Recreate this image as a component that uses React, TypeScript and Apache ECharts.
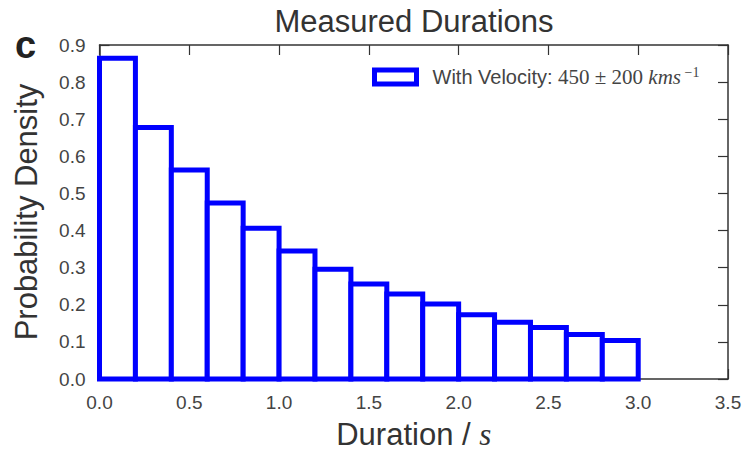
import React, { useEffect, useRef } from "react";
import * as echarts from "echarts";

const binEdges = [0.0, 0.2, 0.4, 0.6, 0.8, 1.0, 1.2, 1.4, 1.6, 1.8, 2.0, 2.2, 2.4, 2.6, 2.8, 3.0];
const densities = [0.864, 0.678, 0.563, 0.474, 0.406, 0.345, 0.296, 0.256, 0.229, 0.202, 0.173, 0.153, 0.139, 0.12, 0.104];
const xTicks = [0.0, 0.5, 1.0, 1.5, 2.0, 2.5, 3.0, 3.5];
const yTicks = [0.0, 0.1, 0.2, 0.3, 0.4, 0.5, 0.6, 0.7, 0.8, 0.9];
const seriesName = "With Velocity";

const SANS = "'Liberation Sans', Arial, sans-serif";
const SERIF = "'Liberation Serif', 'DejaVu Serif', serif";
const AXIS = "#333333";
const LABEL = "#444444";
const BLUE = "#0000ff";

export default function App() {
  const ref = useRef<HTMLDivElement>(null);
  useEffect(() => {
    if (!ref.current) return;
    const chart = echarts.init(ref.current, null, { renderer: "svg" });
    const data = densities.map((d, i) => [binEdges[i], binEdges[i + 1], d]);
    const xMin = xTicks[0];
    const xMax = xTicks[xTicks.length - 1];
    const yMin = yTicks[0];
    const yMax = yTicks[yTicks.length - 1];
    const axisCommon = {
      axisLine: { show: true, onZero: false, lineStyle: { color: AXIS, width: 1.5 } },
      axisTick: { show: true, inside: true, length: 10, lineStyle: { color: AXIS, width: 1.2 } },
      splitLine: { show: false },
    };
    chart.setOption({
      animation: false,
      backgroundColor: "#ffffff",
      title: {
        text: "Measured Durations",
        left: 414,
        textAlign: "center",
        top: 6,
        padding: 0,
        textStyle: { fontFamily: SANS, fontSize: 31, fontWeight: "normal", color: "#333333" },
      },
      graphic: [
        {
          type: "text",
          left: 15,
          top: 26,
          style: { text: "c", font: `bold 38px ${SANS}`, fill: "#222222" },
        },
      ],
      legend: {
        show: true,
        left: 372,
        top: 65,
        padding: 0,
        itemWidth: 42,
        itemHeight: 14,
        data: [
          {
            name: seriesName,
            icon: "rect",
            itemStyle: { color: "#ffffff", borderColor: BLUE, borderWidth: 5 },
          },
        ],
        formatter: () => "{t|With Velocity: }{m|450 ± 200 }{i|kms}{s| −1}",
        textStyle: {
          rich: {
            t: { fontFamily: SANS, fontSize: 20, color: LABEL, padding: [0, 0, 0, 11], lineHeight: 24 },
            m: { fontFamily: SERIF, fontSize: 21, color: LABEL, lineHeight: 24 },
            i: { fontFamily: SERIF, fontStyle: "italic", fontSize: 21, color: LABEL, lineHeight: 24 },
            s: { fontFamily: SERIF, fontSize: 14, color: LABEL, verticalAlign: "top", lineHeight: 15 },
          },
        },
      },
      grid: { left: 99.5, right: 20, top: 45, bottom: 78, containLabel: false },
      xAxis: [
        {
          type: "value",
          position: "bottom",
          min: xMin,
          max: xMax,
          interval: 0.5,
          ...axisCommon,
          axisLabel: {
            margin: 14,
            fontFamily: SANS,
            fontSize: 19,
            color: LABEL,
            formatter: (v: number) => v.toFixed(1),
          },
          name: "{n|Duration / }{i|s}",
          nameLocation: "middle",
          nameGap: 40,
          nameTextStyle: {
            rich: {
              n: { fontFamily: SANS, fontSize: 31, color: "#333333" },
              i: { fontFamily: SERIF, fontStyle: "italic", fontSize: 31, color: "#333333" },
            },
          },
        },
        {
          type: "value",
          position: "top",
          min: xMin,
          max: xMax,
          interval: 0.5,
          ...axisCommon,
          axisLabel: { show: false },
        },
      ],
      yAxis: [
        {
          type: "value",
          position: "left",
          min: yMin,
          max: yMax,
          interval: 0.1,
          ...axisCommon,
          axisLabel: {
            margin: 14,
            fontFamily: SANS,
            fontSize: 19,
            color: LABEL,
            formatter: (v: number) => v.toFixed(1),
          },
          name: "Probability Density",
          nameLocation: "middle",
          nameGap: 58,
          nameTextStyle: { fontFamily: SANS, fontSize: 31, color: "#333333" },
        },
        {
          type: "value",
          position: "right",
          min: yMin,
          max: yMax,
          interval: 0.1,
          ...axisCommon,
          axisLabel: { show: false },
        },
      ],
      series: [
        {
          name: seriesName,
          type: "custom",
          xAxisIndex: 0,
          yAxisIndex: 0,
          itemStyle: { color: "#ffffff", borderColor: BLUE, borderWidth: 5 },
          encode: { x: [0, 1], y: 2 },
          data,
          renderItem: (params: any, api: any) => {
            const x0 = api.value(0);
            const x1 = api.value(1);
            const y = api.value(2);
            const p0 = api.coord([x0, y]);
            const p1 = api.coord([x1, 0]);
            return {
              type: "rect",
              shape: { x: p0[0], y: p0[1], width: p1[0] - p0[0], height: p1[1] - p0[1] },
              style: { fill: "#ffffff", stroke: BLUE, lineWidth: 5 },
            };
          },
        },
      ],
    });
    return () => chart.dispose();
  }, []);
  return <div ref={ref} style={{ width: 748, height: 457, position: "absolute", left: 0, top: 0 }} />;
}
